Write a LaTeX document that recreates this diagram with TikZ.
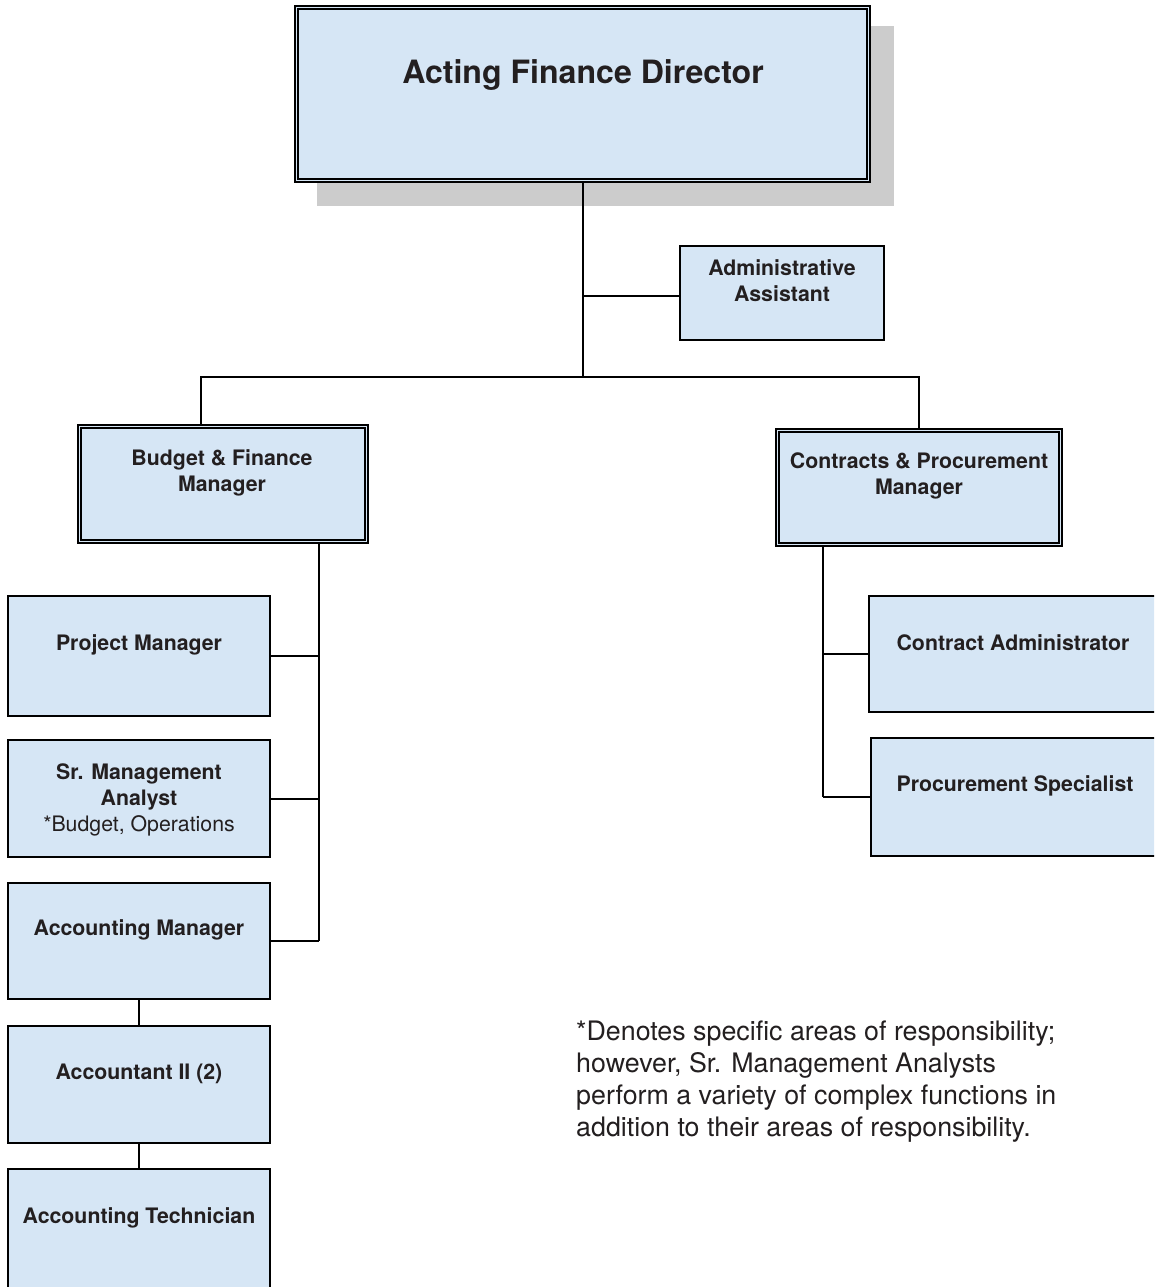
\documentclass[tikz,border=0pt]{standalone}
\usepackage{fontspec}
\setmainfont{TeX Gyre Heros}
\definecolor{boxfill}{RGB}{214,230,245}
\definecolor{shadowgray}{RGB}{204,204,204}
\definecolor{ink}{RGB}{35,31,32}
\begin{document}
\begin{tikzpicture}[x=1pt,y=-1pt,
  box/.style={draw=black, fill=boxfill, line width=1.6pt, inner sep=0pt, rectangle},
  dbox/.style={draw=black, fill=boxfill, line width=1.4pt, double=boxfill, double distance=1.8pt, inner sep=0pt, rectangle},
  lbl/.style={text=ink, font=\fontsize{21.3}{25.8}\selectfont\bfseries, align=center, inner sep=0pt},
  conn/.style={draw=black, line width=1.5pt},
]
\useasboundingbox (0,0) rectangle (1154,1287);
\clip (0,0) rectangle (1154,1287);
\fill[white] (0,0) rectangle (1154,1287);

% shadow of the top box
\fill[shadowgray] (317,26) rectangle (894,206);

% boxes
\node[dbox, minimum width=572pt, minimum height=173pt] (dir) at (582.5,94) {};
\node[text=ink, font=\fontsize{32.1}{36}\selectfont\bfseries, inner sep=0pt] (dirt) at (583,75) {Acting Finance Director};

\node[box, minimum width=204.5pt, minimum height=94.5pt] (admin) at (782,293) {};
\node[lbl] (admint) at (782,281) {Administrative\\Assistant};

\node[dbox, minimum width=287pt, minimum height=115pt] (budget) at (223,484) {};
\node[lbl] (budgett) at (222,472.5) {Budget \& Finance\\Manager};

\node[dbox, minimum width=283pt, minimum height=114pt] (contracts) at (919,487.5) {};
\node[lbl] (contractst) at (919,476) {Contracts \& Procurement\\Manager};

\node[box, minimum width=262.5pt, minimum height=120.5pt] (pm) at (139,656) {};
\node[lbl] (pmt) at (139,644.5) {Project Manager};

\node[box, minimum width=262.5pt, minimum height=117.5pt] (sma) at (139,798.5) {};
\node[lbl] (smat) at (139,800) {Sr. Management\\Analyst\\{\mdseries *Budget, Operations}};

\node[box, minimum width=262.5pt, minimum height=116.5pt] (am) at (139,941) {};
\node[lbl] (amt) at (139,929.5) {Accounting Manager};

\node[box, minimum width=262.5pt, minimum height=117.5pt] (a2) at (139,1084.5) {};
\node[lbl] (a2t) at (139,1073.5) {Accountant II (2)};

\node[box, minimum width=262.5pt, minimum height=130pt] (at) at (139,1234) {};
\node[lbl] (att) at (139,1217.5) {Accounting Technician};

\node[box, minimum width=301pt, minimum height=116.5pt] (ca) at (1019.5,654) {};
\node[lbl] (cat) at (1013,642.5) {Contract Administrator};

\node[box, minimum width=299pt, minimum height=118.5pt] (ps) at (1020.5,797) {};
\node[lbl] (pst) at (1015,785.5) {Procurement Specialist};

% note
\node[text=ink, font=\fontsize{26.8}{31.7}\selectfont, align=left, anchor=base west, inner sep=0pt] (note) at (576,1136)
  {*Denotes specific areas of responsibility;\\however, Sr. Management Analysts\\perform a variety of complex functions in\\addition to their areas of responsibility.};

% junction coordinates
\coordinate (hub) at (583,377);
\coordinate (bl) at (201,377);
\coordinate (br) at (919,377);
\coordinate (bv) at (319,941);
\coordinate (cv) at (823,797);

% connectors
\draw[conn] (dir.south -| hub) -- (hub);
\draw[conn] (admin.west |- 0,296) -- (hub |- 0,296);
\draw[conn] (budget.north -| bl) -- (bl) -- (br) -- (contracts.north);
\draw[conn] (budget.south -| bv) -- (bv);
\draw[conn] (pm.east) -- (pm.east -| bv);
\draw[conn] (sma.east |- 0,799) -- (bv |- 0,799);
\draw[conn] (am.east) -- (bv);
\draw[conn] (am.south) -- (a2.north);
\draw[conn] (a2.south) -- (at.north);
\draw[conn] (contracts.south -| cv) -- (cv);
\draw[conn] (ca.west) -- (ca.west -| cv);
\draw[conn] (ps.west) -- (cv);
\end{tikzpicture}
\end{document}
